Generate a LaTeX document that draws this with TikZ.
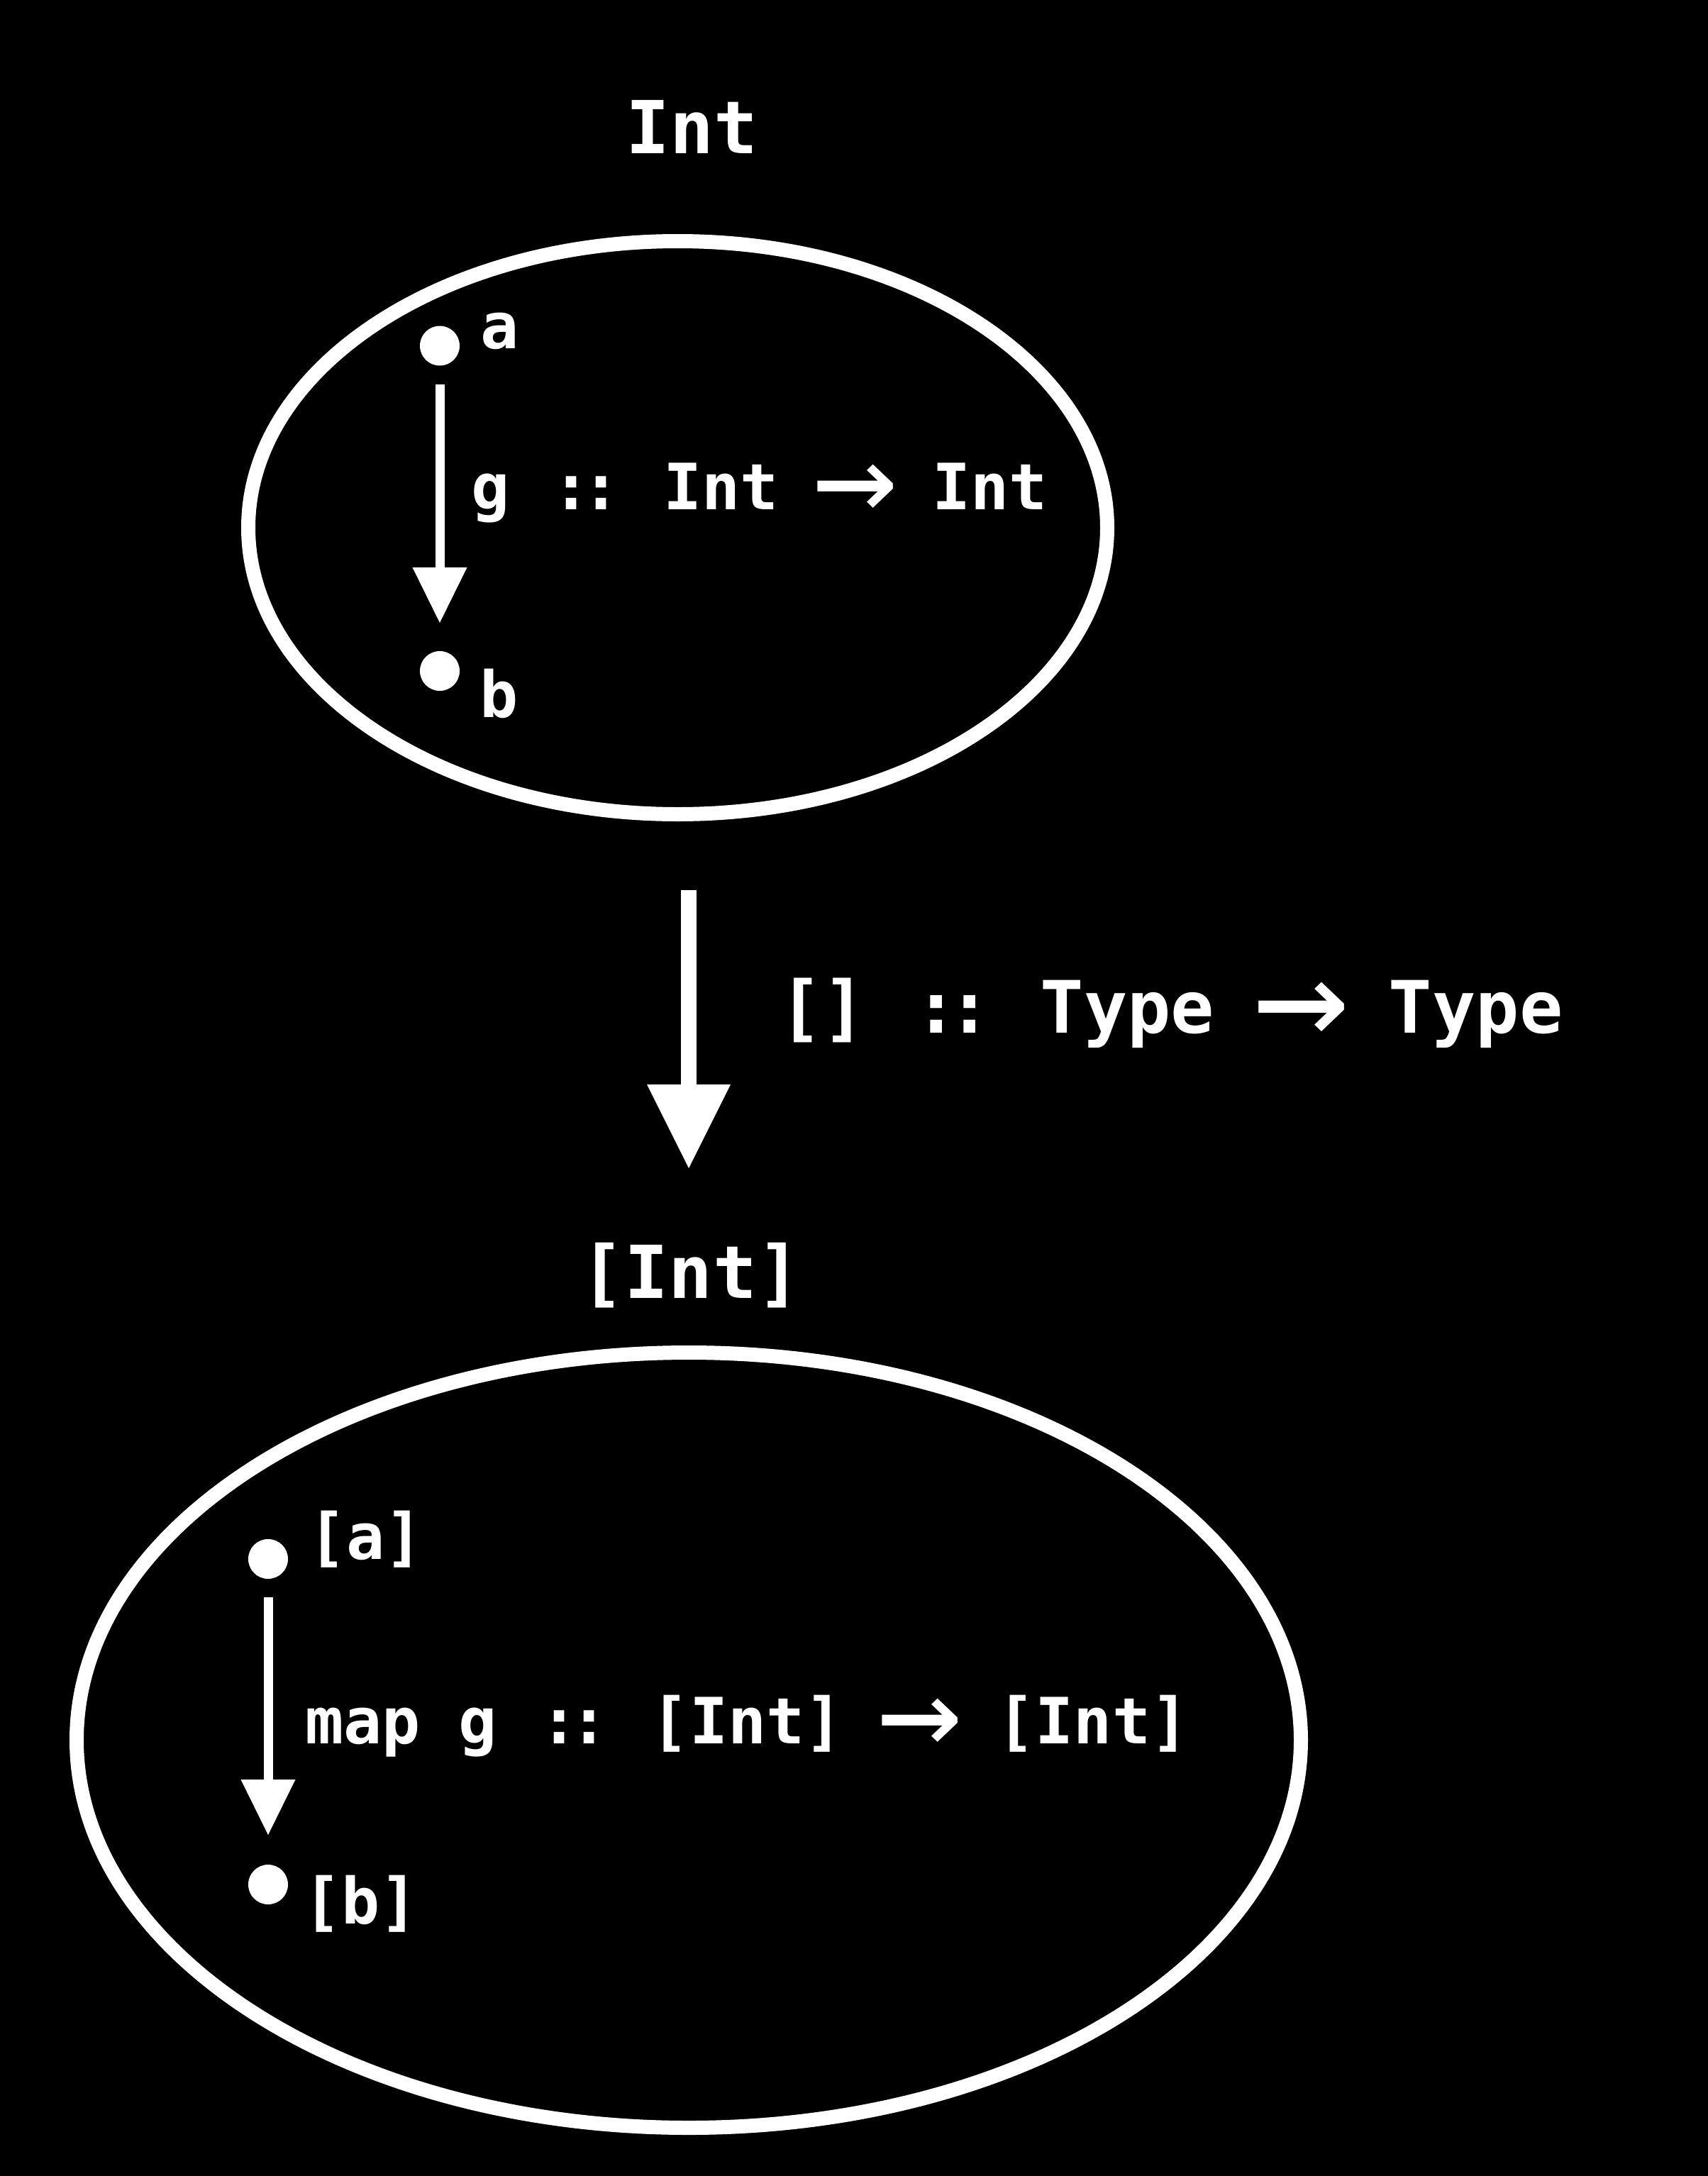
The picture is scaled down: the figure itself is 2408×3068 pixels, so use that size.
\documentclass[tikz,border=0pt]{standalone}
\usepackage{graphicx}
\usepackage{fontspec}
\usetikzlibrary{arrows.meta,shapes.geometric}
\newfontfamily\codefont{DejaVu Sans Mono}
\newcommand\rarr{\makebox[1.204em][c]{\raisebox{-0.22em}{\scalebox{2.2}[2.1]{\mdseries →}}}}
\newcommand\dcolon{\kern0.07em:\kern-0.14em:\kern0.07em}
\tikzset{
  txt/.style={text=white, inner sep=0pt, font=\codefont\bfseries\fontsize{90}{100}\selectfont\frenchspacing},
  bigtxt/.style={text=white, inner sep=0pt, font=\codefont\bfseries\fontsize{102}{112}\selectfont\frenchspacing},
  titletxt/.style={text=white, inner sep=0pt, font=\codefont\bfseries\fontsize{103}{113}\selectfont\frenchspacing},
  dot/.style={circle, fill=white, minimum size=56pt, inner sep=0pt, outer sep=0pt},
  setshape/.style={ellipse, draw=white, line width=20pt, inner sep=0pt, outer sep=0pt},
  arrowsmall/.style={white, line width=13pt, -{Triangle[length=78pt,width=77pt,line width=0pt]}},
  arrowbig/.style={white, line width=22pt, -{Triangle[length=118pt,width=118pt,line width=0pt]}},
}
\begin{document}
\begin{tikzpicture}[x=1pt,y=-1pt]
\fill[black] (0,0) rectangle (2408,3068);
\useasboundingbox (0,0) rectangle (2408,3068);
% top category
\node[titletxt, anchor=base] (t1) at (975.5,216) {Int};
\node[setshape, minimum width=1211pt, minimum height=808pt] (e1) at (955.5,744) {};
\node[dot] (a) at (620,487.5) {};
\node[dot] (b) at (620,946) {};
\node[txt, anchor=base west] (la) at (677,491) {a};
\node[txt, anchor=base west] (lb) at (676,1011) {b};
\draw[arrowsmall, shorten <=26.5pt, shorten >=40pt] (a) -- (b);
\node[txt, anchor=base west] (g) at (664,718) {g \dcolon{} Int \rarr{} Int};
% functor arrow
\node[setshape, minimum width=1726pt, minimum height=1093pt] (e2) at (971,2453.5) {};
\draw[arrowbig, shorten <=107pt, shorten >=260pt] (e1.south -| e2.north) -- (e2.north);
\node[bigtxt, anchor=base west] (f) at (1098,1456) {[] \dcolon{} Type \rarr{} Type};
% bottom category
\node[titletxt, anchor=base] (t2) at (974,1830) {[Int]};
\node[dot] (pa) at (378,2198) {};
\node[dot] (pb) at (378,2657) {};
\node[txt, anchor=base west] (lpa) at (434,2198) {[a]};
\node[txt, anchor=base west] (lpb) at (427,2712) {[b]};
\draw[arrowsmall, shorten <=26pt, shorten >=42pt] (pa) -- (pb);
\node[txt, anchor=base west] (mg) at (430,2458) {map g \dcolon{} [Int] \rarr{} [Int]};
\end{tikzpicture}
\end{document}
